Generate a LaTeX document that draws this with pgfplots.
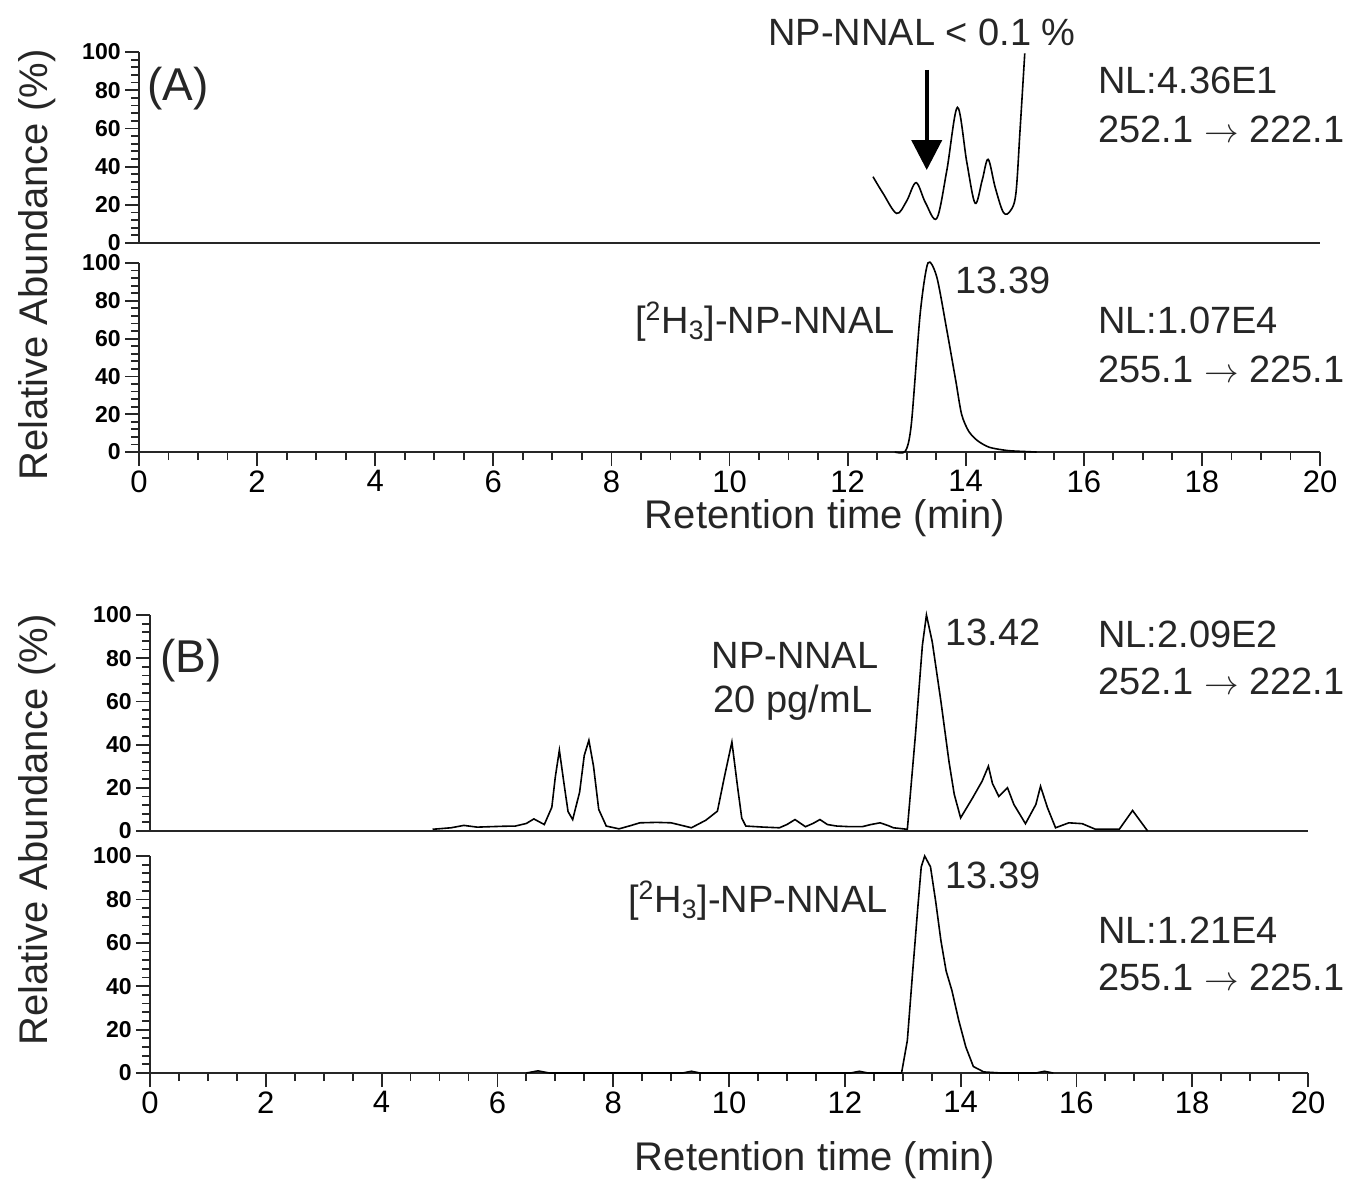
\documentclass[border=0pt]{standalone}
\usepackage{fontspec}
\setmainfont{Liberation Sans}
\usepackage{pgfplots}
\pgfplotsset{compat=1.18}
\usetikzlibrary{arrows.meta}
\pgfplotsset{
  /pgf/number format/assume math mode=true,
  chrom/.style={
    scale only axis, anchor=south west,
    xmin=0, xmax=20, ymin=0, ymax=100,
    axis x line=bottom, axis y line=left,
    axis line style={-, line width=1.2pt, black!85},
    tick align=outside,
    ytick={0,20,...,100}, minor y tick num=4,
    major tick length=7pt, minor tick length=4pt,
    tick style={line width=0.9pt, black!85},
    yticklabel style={font=\fontsize{11.5}{12}\selectfont\bfseries, inner sep=0pt, xshift=-2pt},
    clip=false,
  },
  toppanel/.style={chrom, xtick=\empty},
  botpanel/.style={chrom, xtick={0,2,...,20}, minor x tick num=3,
    xticklabel style={font=\fontsize{15.5}{16}\selectfont, inner sep=2pt}},
  trace/.style={line width=0.8pt, black},
}
\newcommand{\ann}{\fontsize{19}{22}\selectfont}
\newcommand{\arr}{ $\rightarrow$ }
\begin{document}
\begin{tikzpicture}
\begin{scope}[x=0.5pt, y=-0.5pt]
  \path[use as bounding box] (0,0) rectangle (1363,1179);
\end{scope}

% ---------------- Panel A, upper ----------------
\begin{axis}[toppanel, at={(69.5pt,-121.5pt)}, width=590.5pt, height=95.5pt]
\addplot[trace, smooth, tension=0.55] coordinates {
(12.43,34.7) (12.60,26) (12.83,15.5) (13.00,22) (13.16,31.6) (13.32,21) (13.51,12.9)
(13.68,38) (13.86,71) (14.02,42) (14.16,20.8) (14.28,33) (14.38,43.8) (14.50,29)
(14.64,15.9) (14.76,17) (14.85,26) (14.92,59) (15.00,99.3)
};
\draw[-{Triangle[width=15pt,length=15pt]}, line width=2pt, black]
  (axis cs:13.34,90.6) -- (axis cs:13.34,38.2);
\end{axis}

% ---------------- Panel A, lower ----------------
\begin{axis}[botpanel, at={(69.5pt,-226pt)}, width=590.5pt, height=94.5pt]
\addplot[trace, smooth, tension=0.45] coordinates {
(12.80,0) (12.98,0.5) (13.08,15) (13.23,73.5) (13.36,100) (13.51,92.6) (13.68,64.5)
(13.83,38) (13.93,20) (14.05,11) (14.20,6) (14.40,2.5) (14.70,0.8) (14.97,0.3) (15.2,0)
};
\end{axis}

% ---------------- Panel B, upper ----------------
\begin{axis}[toppanel, at={(75pt,-415.5pt)}, width=579pt, height=108pt]
\addplot[trace] coordinates {
(4.88,0.8) (5.20,1.5) (5.42,2.6) (5.65,1.8) (5.87,2) (6.10,2.2) (6.31,2.3) (6.50,3.5)
(6.63,5.6) (6.81,3) (6.94,11) (7.00,25) (7.07,37.4) (7.15,22) (7.22,9) (7.30,5.3)
(7.42,18) (7.50,35) (7.58,42) (7.66,30) (7.75,10) (7.88,2.3) (8.10,1) (8.30,2.5)
(8.46,3.8) (8.75,4) (9.00,3.8) (9.20,2.5) (9.35,1.5) (9.60,5) (9.80,9.2) (9.92,25)
(10.05,41.2) (10.15,20) (10.22,6) (10.29,2.3) (10.60,1.8) (10.87,1.5) (11.00,3)
(11.14,5.3) (11.32,2) (11.45,3.5) (11.57,5.3) (11.70,3) (11.86,2.3) (12.10,2)
(12.30,2) (12.45,3) (12.61,3.8) (12.75,2.5) (12.84,1.5) (13.08,0.8) (13.22,44.6)
(13.34,86) (13.41,100) (13.51,87.6) (13.66,60) (13.80,32) (13.89,17) (14.00,6.1)
(14.20,15) (14.37,23) (14.48,30) (14.55,22) (14.66,16) (14.81,20) (14.92,12.3)
(15.12,3.4) (15.30,12.3) (15.38,20.7) (15.50,10.8) (15.64,1.5) (15.87,3.8)
(16.10,3.4) (16.33,0.8) (16.74,0.8) (16.97,9.5) (17.23,0)
};
\end{axis}

% ---------------- Panel B, lower ----------------
\begin{axis}[botpanel, at={(75pt,-536.5pt)}, width=579pt, height=108.5pt]
\addplot[trace] coordinates {
(6.50,0) (6.70,1) (6.90,0) (9.20,0) (9.35,0.8) (9.50,0) (12.10,0) (12.25,0.8) (12.40,0)
(12.98,0) (13.08,15) (13.17,46) (13.26,76) (13.32,95) (13.38,100) (13.48,95)
(13.57,79) (13.66,61) (13.75,47) (13.85,38) (13.97,24) (14.09,12) (14.22,3)
(14.40,0.5) (14.70,0) (15.30,0) (15.45,0.8) (15.60,0)
};
\end{axis}

% ---------------- Text ----------------
\begin{scope}[x=0.5pt, y=-0.5pt, every node/.style={inner sep=0pt, text=black!85}]
  % axis titles
  \node[rotate=90, anchor=base, font=\fontsize{20}{24}\selectfont] at (47,265) {Relative Abundance (\%)};
  \node[rotate=90, anchor=base, font=\fontsize{20}{24}\selectfont] at (47,830) {Relative Abundance (\%)};
  \node[anchor=base, font=\fontsize{20}{24}\selectfont] at (825,528) {Retention time (min)};
  \node[anchor=base, font=\fontsize{20}{24}\selectfont] at (815,1170) {Retention time (min)};
  % panel A
  \node[anchor=base west, font=\fontsize{23}{26}\selectfont] at (147,100) {(A)};
  \node[anchor=base west, font=\ann] at (768,45) {NP-NNAL < 0.1 \%};
  \node[anchor=base west, font=\ann] at (1098,93) {NL:4.36E1};
  \node[anchor=base west, font=\ann] at (1098,142) {252.1\arr222.1};
  \node[anchor=base west, font=\ann] at (955,293) {13.39};
  \node[anchor=base east, font=\ann] at (895,333) {[\textsuperscript{2}H\textsubscript{3}]-NP-NNAL};
  \node[anchor=base west, font=\ann] at (1098,333) {NL:1.07E4};
  \node[anchor=base west, font=\ann] at (1098,382) {255.1\arr225.1};
  % panel B
  \node[anchor=base west, font=\fontsize{23}{26}\selectfont] at (160,672) {(B)};
  \node[anchor=base, font=\ann] at (795,668) {NP-NNAL};
  \node[anchor=base, font=\ann] at (793,712) {20 pg/mL};
  \node[anchor=base west, font=\ann] at (945,645) {13.42};
  \node[anchor=base west, font=\ann] at (1098,647) {NL:2.09E2};
  \node[anchor=base west, font=\ann] at (1098,694) {252.1\arr222.1};
  \node[anchor=base west, font=\ann] at (945,888) {13.39};
  \node[anchor=base east, font=\ann] at (888,912) {[\textsuperscript{2}H\textsubscript{3}]-NP-NNAL};
  \node[anchor=base west, font=\ann] at (1098,943) {NL:1.21E4};
  \node[anchor=base west, font=\ann] at (1098,990) {255.1\arr225.1};
\end{scope}
\end{tikzpicture}
\end{document}
